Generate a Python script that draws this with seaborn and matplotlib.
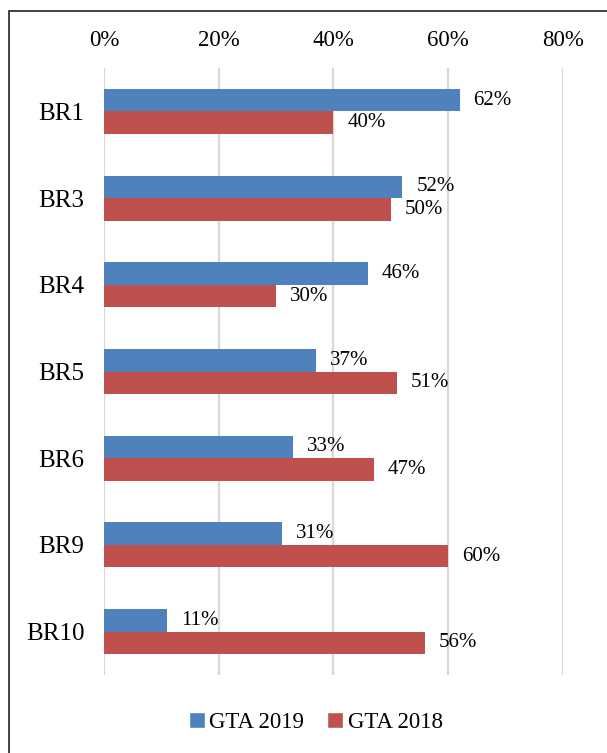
import pandas as pd
import seaborn as sns
import matplotlib.pyplot as plt
from matplotlib.patches import Rectangle, Patch

# data
categories = ["BR1", "BR3", "BR4", "BR5", "BR6", "BR9", "BR10"]
gta_2019 = [62, 52, 46, 37, 33, 31, 11]
gta_2018 = [40, 50, 30, 51, 47, 60, 56]
series = ["GTA 2019", "GTA 2018"]
colors = ["#4F81BD", "#C0504D"]

df = pd.DataFrame({
    "cat": categories * 2,
    "value": gta_2019 + gta_2018,
    "series": [series[0]] * len(categories) + [series[1]] * len(categories),
})

sns.set_style("white")
plt.rcParams["font.family"] = ["Liberation Serif", "DejaVu Serif"]
plt.rcParams["text.color"] = "black"
plt.rcParams["xtick.color"] = "black"
plt.rcParams["ytick.color"] = "black"

fig = plt.figure(figsize=(6.07, 7.53), dpi=100)
ax = fig.add_axes([0.1713, 0.1036, 0.7562, 0.806])

sns.barplot(data=df, x="value", y="cat", hue="series", orient="h",
            palette=colors, width=0.52, saturation=1, ax=ax, legend=False,
            linewidth=0)

ax.set_xlim(0, 80)
ax.set_ylim(6.5, -0.5)
ax.set_xticks([0, 20, 40, 60, 80])
ax.set_xticklabels([f"{t}%" for t in [0, 20, 40, 60, 80]])
ax.xaxis.tick_top()
ax.tick_params(axis="x", length=0, pad=12, labelsize=16.5)
ax.tick_params(axis="y", length=0, pad=14, labelsize=18)
ax.set_xlabel("")
ax.set_ylabel("")
for s in ax.spines.values():
    s.set_visible(False)
ax.grid(axis="x", color="#D9D9D9", lw=1.6)
ax.grid(axis="y", visible=False)
ax.set_axisbelow(True)

vals = [gta_2019, gta_2018]
for cont, v in zip(ax.containers, vals):
    ax.bar_label(cont, labels=[f"{x}%" for x in v], padding=10, fontsize=15,
                 color="black")

handles = [Patch(facecolor=c) for c in colors]
fig.legend(handles, series, loc="center", bbox_to_anchor=(0.52, 0.04), ncol=2,
           frameon=False, fontsize=16.5, handlelength=0.7, handleheight=0.7,
           handletextpad=0.2, columnspacing=1.0)

fig.add_artist(Rectangle((9 / 607, -0.1), 1.2, 1 - 11 / 753 + 0.1,
                         transform=fig.transFigure, fill=False,
                         edgecolor="#222222", lw=1.2))

fig.savefig("out.png", dpi=100)
